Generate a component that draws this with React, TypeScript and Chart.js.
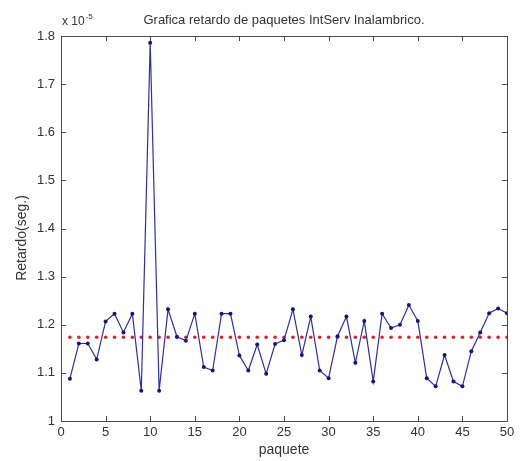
import React, { useEffect, useRef } from "react";
import { Chart, registerables } from "chart.js";

Chart.register(...registerables);

const packets: number[] = Array.from({ length: 50 }, (_, i) => i + 1);
const delays: number[] = [
  1.088, 1.161, 1.161, 1.128, 1.207, 1.223, 1.184, 1.223, 1.063, 1.786,
  1.063, 1.232, 1.175, 1.167, 1.223, 1.112, 1.105, 1.223, 1.223, 1.136,
  1.105, 1.159, 1.098, 1.16, 1.168, 1.232, 1.137, 1.217, 1.105, 1.089,
  1.176, 1.217, 1.121, 1.208, 1.082, 1.223, 1.193, 1.2, 1.241, 1.208,
  1.089, 1.072, 1.137, 1.082, 1.072, 1.145, 1.184, 1.224, 1.234, 1.224,
];
const meanDelay = 1.174;
const xTicks: number[] = [0, 5, 10, 15, 20, 25, 30, 35, 40, 45, 50];
const yTicks: number[] = [1, 1.1, 1.2, 1.3, 1.4, 1.5, 1.6, 1.7, 1.8];
const titleText = "Grafica retardo de paquetes IntServ Inalambrico.";
const xLabel = "paquete";
const yLabel = "Retardo(seg.)";
const FONT = "'Liberation Sans', Arial, sans-serif";

const boxPlugin = {
  id: "matlabBox",
  afterDraw(chart: any) {
    const { ctx, chartArea, scales } = chart;
    const { left, right, top, bottom } = chartArea;
    ctx.save();
    ctx.strokeStyle = "#4a4a4a";
    ctx.lineWidth = 1;
    ctx.beginPath();
    ctx.rect(Math.round(left) + 0.5, Math.round(top) + 0.5, Math.round(right - left), Math.round(bottom - top));
    ctx.stroke();
    const tl = 5;
    ctx.beginPath();
    for (const v of xTicks) {
      const px = Math.round(scales.x.getPixelForValue(v)) + 0.5;
      ctx.moveTo(px, bottom);
      ctx.lineTo(px, bottom - tl);
      ctx.moveTo(px, top);
      ctx.lineTo(px, top + tl);
    }
    for (const v of yTicks) {
      const py = Math.round(scales.y.getPixelForValue(v)) + 0.5;
      ctx.moveTo(left, py);
      ctx.lineTo(left + tl, py);
      ctx.moveTo(right, py);
      ctx.lineTo(right - tl, py);
    }
    ctx.stroke();
    ctx.fillStyle = "#333";
    ctx.textBaseline = "alphabetic";
    ctx.textAlign = "left";
    ctx.font = `12px ${FONT}`;
    ctx.fillText("x 10", left + 1, top - 11);
    const w = ctx.measureText("x 10").width;
    ctx.font = `8px ${FONT}`;
    ctx.fillText("-5", left + 2 + w, top - 17);
    // y-axis label
    ctx.font = `14px ${FONT}`;
    ctx.textAlign = "center";
    ctx.textBaseline = "middle";
    ctx.translate(22, 238);
    ctx.rotate(-Math.PI / 2);
    ctx.fillText(yLabel, 0, 0);
    ctx.restore();
  },
};

export default function App() {
  const ref = useRef<HTMLCanvasElement | null>(null);
  useEffect(() => {
    document.body.style.margin = "0";
    const canvas = ref.current!;
    const chart = new Chart(canvas, {
      type: "line",
      data: {
        datasets: [
          {
            label: "retardo",
            data: packets.map((p, i) => ({ x: p, y: delays[i] })),
            borderColor: "#2e2eb0",
            backgroundColor: "#15157a",
            borderWidth: 1.2,
            pointRadius: 2,
            pointBorderWidth: 0,
            pointBackgroundColor: "#15157a",
            tension: 0,
          },
          {
            label: "media",
            data: packets.map((p) => ({ x: p, y: meanDelay })),
            showLine: false,
            pointRadius: 1.8,
            pointBorderWidth: 0,
            pointBackgroundColor: "#ee1c25",
            borderColor: "#ee1c25",
          },
        ],
      },
      options: {
        animation: false,
        responsive: false,
        devicePixelRatio: 1,
        layout: { padding: { left: 0, right: 14, top: 0, bottom: 0 } },
        plugins: {
          legend: { display: false },
          tooltip: { enabled: false },
          title: {
            display: true,
            text: titleText,
            fullSize: false,
            color: "#333",
            font: { family: FONT, size: 13, weight: "normal" },
            padding: { top: 12.5, bottom: 7.9 },
          },
        },
        scales: {
          x: {
            type: "linear",
            min: 0,
            max: 50,
            afterFit: (s: any) => {
              s.height = 40;
            },
            afterBuildTicks: (s: any) => {
              s.ticks = xTicks.map((v) => ({ value: v }));
            },
            ticks: {
              color: "#333",
              font: { family: FONT, size: 13 },
              padding: 4,
              maxRotation: 0,
              autoSkip: false,
            },
            grid: { display: false, drawTicks: false },
            border: { display: false },
            title: {
              display: true,
              text: xLabel,
              color: "#333",
              font: { family: FONT, size: 14 },
              padding: { top: 0, bottom: 2 },
            },
          },
          y: {
            type: "linear",
            min: 1,
            max: 1.8,
            afterFit: (s: any) => {
              s.width = 61;
            },
            afterBuildTicks: (s: any) => {
              s.ticks = yTicks.map((v) => ({ value: v }));
            },
            ticks: {
              color: "#333",
              font: { family: FONT, size: 13 },
              padding: 6,
              autoSkip: false,
              callback: (v: any) => String(Math.round(Number(v) * 10) / 10),
            },
            grid: { display: false, drawTicks: false },
            border: { display: false },
            title: { display: false },
          },
        },
      },
      plugins: [boxPlugin],
    });
    return () => chart.destroy();
  }, []);
  return (
    <div style={{ position: "fixed", left: 0, top: 0, width: 521, height: 461, background: "#fff" }}>
      <canvas ref={ref} width={521} height={461} style={{ width: 521, height: 461, display: "block" }} />
    </div>
  );
}
